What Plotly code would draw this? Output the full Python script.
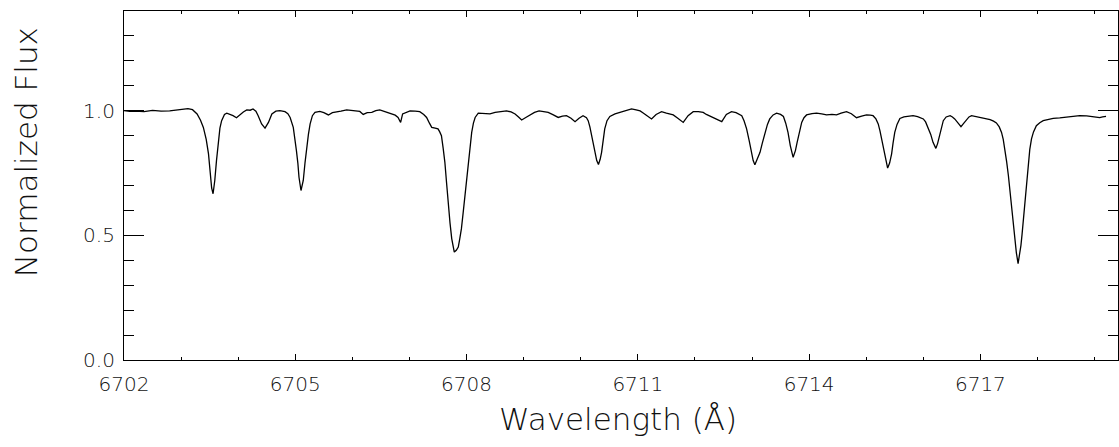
import plotly.graph_objects as go

wavelength = [
    6702.00, 6702.10, 6702.20, 6702.35, 6702.50, 6702.65, 6702.80, 6702.95, 6703.05, 6703.12,
    6703.20, 6703.28, 6703.34, 6703.39, 6703.44, 6703.48, 6703.51, 6703.535, 6703.56, 6703.59,
    6703.62, 6703.65, 6703.68, 6703.71, 6703.76, 6703.80, 6703.86, 6703.91, 6703.97, 6704.03,
    6704.09, 6704.15, 6704.21, 6704.26, 6704.31, 6704.35, 6704.41, 6704.47, 6704.53, 6704.59,
    6704.66, 6704.73, 6704.82, 6704.87, 6704.91, 6704.965, 6705.00, 6705.02, 6705.045, 6705.065,
    6705.10, 6705.14, 6705.17, 6705.20, 6705.23, 6705.26, 6705.30, 6705.345, 6705.43, 6705.50,
    6705.58, 6705.65, 6705.72, 6705.80, 6705.90, 6705.96, 6706.05, 6706.13, 6706.19, 6706.26,
    6706.34, 6706.41, 6706.48, 6706.57, 6706.66, 6706.75, 6706.80, 6706.845, 6706.88, 6706.95,
    6707.01, 6707.10, 6707.18, 6707.25, 6707.30, 6707.35, 6707.39, 6707.45, 6707.50, 6707.53,
    6707.56, 6707.59, 6707.62, 6707.65, 6707.68, 6707.71, 6707.74, 6707.785, 6707.82, 6707.855,
    6707.88, 6707.91, 6707.94, 6707.97, 6708.00, 6708.03, 6708.06, 6708.09, 6708.12, 6708.15,
    6708.205, 6708.30, 6708.41, 6708.50, 6708.585, 6708.70, 6708.78, 6708.85, 6708.91, 6708.965,
    6709.03, 6709.11, 6709.19, 6709.27, 6709.35, 6709.43, 6709.52, 6709.605, 6709.68, 6709.75,
    6709.83, 6709.90, 6709.97, 6710.04, 6710.10, 6710.13, 6710.16, 6710.19, 6710.22, 6710.25,
    6710.28, 6710.31, 6710.34, 6710.365, 6710.39, 6710.42, 6710.46, 6710.51, 6710.60, 6710.69,
    6710.80, 6710.89, 6710.97, 6711.04, 6711.10, 6711.17, 6711.24, 6711.32, 6711.415, 6711.50,
    6711.56, 6711.62, 6711.70, 6711.795, 6711.88, 6711.97, 6712.06, 6712.145, 6712.20, 6712.26,
    6712.36, 6712.47, 6712.55, 6712.64, 6712.72, 6712.78, 6712.82, 6712.86, 6712.905, 6712.95,
    6712.99, 6713.02, 6713.05, 6713.09, 6713.14, 6713.18, 6713.225, 6713.27, 6713.31, 6713.37,
    6713.43, 6713.50, 6713.55, 6713.59, 6713.63, 6713.67, 6713.72, 6713.76, 6713.79, 6713.83,
    6713.87, 6713.91, 6713.955, 6714.05, 6714.13, 6714.22, 6714.305, 6714.40, 6714.48, 6714.56,
    6714.655, 6714.74, 6714.83, 6714.92, 6715.005, 6715.07, 6715.12, 6715.17, 6715.21, 6715.24,
    6715.27, 6715.30, 6715.33, 6715.375, 6715.41, 6715.445, 6715.47, 6715.50, 6715.54, 6715.59,
    6715.66, 6715.735, 6715.82, 6715.90, 6716.00, 6716.04, 6716.085, 6716.13, 6716.17, 6716.22,
    6716.25, 6716.28, 6716.31, 6716.35, 6716.40, 6716.47, 6716.51, 6716.55, 6716.61, 6716.66,
    6716.71, 6716.76, 6716.80, 6716.845, 6716.92, 6716.99, 6717.08, 6717.17, 6717.23, 6717.28,
    6717.33, 6717.37, 6717.40, 6717.43, 6717.46, 6717.49, 6717.52, 6717.55, 6717.575, 6717.60,
    6717.63, 6717.66, 6717.685, 6717.71, 6717.73, 6717.75, 6717.775, 6717.80, 6717.82, 6717.84,
    6717.865, 6717.895, 6717.93, 6717.98, 6718.04, 6718.10, 6718.19, 6718.275, 6718.39, 6718.51,
    6718.62, 6718.74, 6718.86, 6718.975, 6719.04, 6719.09, 6719.14, 6719.20,
]

flux = [
    1.000, 0.997, 0.998, 0.996, 1.001, 0.998, 0.999, 1.005, 1.006, 1.008,
    1.004, 0.987, 0.962, 0.933, 0.885, 0.827, 0.760, 0.690, 0.667, 0.720,
    0.800, 0.880, 0.930, 0.960, 0.985, 0.990, 0.985, 0.980, 0.972, 0.985,
    0.995, 1.003, 1.002, 1.007, 0.998, 0.980, 0.947, 0.930, 0.953, 0.987,
    0.998, 1.000, 0.996, 0.988, 0.973, 0.933, 0.880, 0.840, 0.790, 0.733,
    0.680, 0.720, 0.790, 0.853, 0.905, 0.947, 0.980, 0.993, 0.997, 0.992,
    0.983, 0.992, 0.996, 0.998, 1.003, 1.001, 0.999, 0.997, 0.985, 0.992,
    0.993, 1.000, 1.003, 0.995, 0.987, 0.982, 0.973, 0.953, 0.987, 0.995,
    0.999, 0.998, 0.996, 0.985, 0.973, 0.950, 0.933, 0.930, 0.927, 0.915,
    0.900, 0.850, 0.793, 0.710, 0.620, 0.550, 0.487, 0.433, 0.440, 0.453,
    0.485, 0.527, 0.590, 0.660, 0.730, 0.793, 0.860, 0.913, 0.950, 0.973,
    0.990, 0.988, 0.987, 0.993, 0.996, 0.999, 0.995, 0.987, 0.975, 0.963,
    0.972, 0.983, 0.993, 0.999, 0.995, 0.993, 0.983, 0.973, 0.978, 0.980,
    0.970, 0.956, 0.970, 0.980, 0.972, 0.960, 0.935, 0.900, 0.865, 0.833,
    0.800, 0.784, 0.805, 0.833, 0.880, 0.927, 0.960, 0.977, 0.987, 0.993,
    1.000, 1.007, 1.003, 0.999, 0.990, 0.978, 0.967, 0.985, 0.996, 0.990,
    0.985, 0.983, 0.970, 0.953, 0.980, 0.996, 0.996, 0.993, 0.985, 0.978,
    0.968, 0.956, 0.985, 0.996, 0.992, 0.985, 0.980, 0.960, 0.927, 0.880,
    0.833, 0.800, 0.783, 0.805, 0.833, 0.870, 0.913, 0.945, 0.967, 0.983,
    0.990, 0.985, 0.977, 0.950, 0.913, 0.860, 0.813, 0.840, 0.873, 0.920,
    0.953, 0.972, 0.983, 0.988, 0.990, 0.987, 0.983, 0.985, 0.983, 0.990,
    0.996, 0.988, 0.972, 0.978, 0.983, 0.982, 0.980, 0.967, 0.947, 0.920,
    0.887, 0.852, 0.820, 0.770, 0.790, 0.827, 0.870, 0.913, 0.945, 0.969,
    0.975, 0.977, 0.980, 0.976, 0.967, 0.955, 0.933, 0.905, 0.873, 0.849,
    0.868, 0.893, 0.925, 0.960, 0.975, 0.980, 0.975, 0.967, 0.950, 0.936,
    0.950, 0.964, 0.975, 0.980, 0.976, 0.972, 0.970, 0.964, 0.958, 0.951,
    0.935, 0.913, 0.885, 0.847, 0.795, 0.740, 0.675, 0.607, 0.545, 0.487,
    0.430, 0.387, 0.420, 0.460, 0.505, 0.553, 0.620, 0.687, 0.745, 0.793,
    0.845, 0.887, 0.915, 0.940, 0.952, 0.960, 0.966, 0.969, 0.971, 0.975,
    0.977, 0.980, 0.979, 0.977, 0.975, 0.972, 0.975, 0.977,
]

x_ticks = [6702, 6705, 6708, 6711, 6714, 6717]
y_ticks = [0.0, 0.5, 1.0]
y_tick_labels = ["0.0", "0.5", "1.0"]

FONT = "DejaVu Sans"
TXT = "#111111"
W = 200

fig = go.Figure()
fig.add_trace(go.Scatter(x=wavelength, y=flux, mode="lines",
                         line=dict(color="black", width=1.3), showlegend=False,
                         hoverinfo="skip"))

fig.update_layout(
    width=1119, height=447,
    margin=dict(l=124, r=1, t=11, b=87, autoexpand=False),
    paper_bgcolor="white", plot_bgcolor="white",
    font=dict(family=FONT, color=TXT, size=20),
)

fig.update_xaxes(
    range=[6702, 6719.41], automargin=False,
    tickmode="array", tickvals=x_ticks, ticktext=[str(v) for v in x_ticks],
    ticks="inside", ticklen=6, tickwidth=1, tickcolor="black",
    minor=dict(dtick=1, tick0=6702, ticks="inside", ticklen=3, tickcolor="black", tickwidth=1),
    showline=True, linecolor="black", linewidth=1.2, mirror="ticks",
    showgrid=False, zeroline=False, ticklabelstandoff=6,
    tickfont=dict(family=FONT, size=20, color=TXT, weight=W),
)
fig.update_yaxes(
    range=[0, 1.4], automargin=False,
    tickmode="array", tickvals=y_ticks, ticktext=y_tick_labels,
    ticks="inside", ticklen=20, tickwidth=1, tickcolor="black",
    minor=dict(dtick=0.1, tick0=0, ticks="inside", ticklen=10, tickcolor="black", tickwidth=1),
    showline=True, linecolor="black", linewidth=1.2, mirror="ticks",
    showgrid=False, zeroline=False, ticklabelstandoff=4,
    tickfont=dict(family=FONT, size=20, color=TXT, weight=W),
)

fig.add_annotation(text="Wavelength (Å)", xref="paper", yref="paper",
                   x=0.4965, y=-0.169, xanchor="center", yanchor="middle",
                   showarrow=False, font=dict(family=FONT, size=31, color=TXT, weight=W))
fig.add_annotation(text="Normalized Flux", xref="paper", yref="paper",
                   x=-0.0986, y=0.5955, xanchor="center", yanchor="middle", textangle=-90,
                   showarrow=False, font=dict(family=FONT, size=31, color=TXT, weight=W))

fig.write_html("out.html", config={"displayModeBar": False},
               post_script="document.body.style.margin='0';document.body.style.overflow='hidden';")
